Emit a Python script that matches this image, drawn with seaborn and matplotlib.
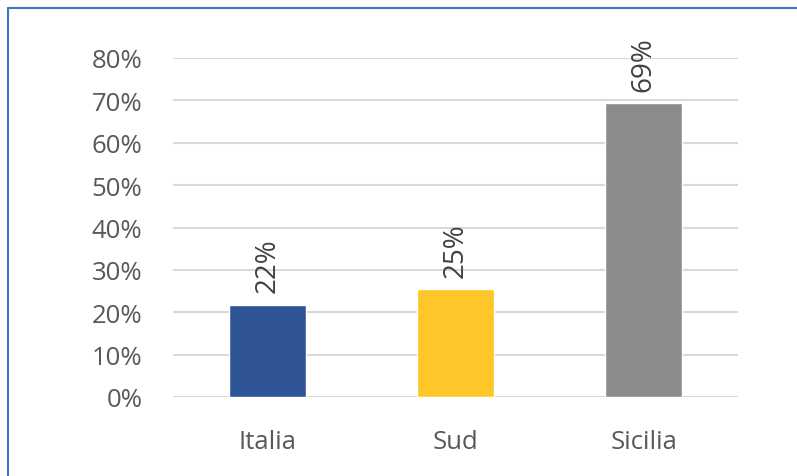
import matplotlib
matplotlib.use("Agg")
import matplotlib.pyplot as plt
from matplotlib.lines import Line2D
import seaborn as sns
import pandas as pd

# Share of each area
areas = ["Italia", "Sud", "Sicilia"]
shares = [0.218, 0.254, 0.693]
bar_colors = ["#2f5597", "#ffc629", "#8c8c8c"]
y_ticks = [0.0, 0.1, 0.2, 0.3, 0.4, 0.5, 0.6, 0.7, 0.8]

sns.set_theme(style="white")
plt.rcParams["font.family"] = ["Open Sans", "DejaVu Sans"]

df = pd.DataFrame({"area": areas, "share": shares})

fig = plt.figure(figsize=(7.97, 4.77), dpi=100)
ax = fig.add_axes([173 / 797, 1 - 398 / 477, (738 - 173) / 797, (398 - 59) / 477])

sns.barplot(data=df, x="area", y="share", hue="area", palette=bar_colors,
            width=0.41, legend=False, ax=ax, saturation=1)

ax.set_xlim(-0.5, 2.5)
ax.set_ylim(0, 0.8)
ax.set_yticks(y_ticks)
ax.set_yticklabels([f"{t:.0%}" for t in y_ticks])
ax.set_xlabel("")
ax.set_ylabel("")
ax.yaxis.grid(True, color="#d9d9d9", linewidth=1.5)
ax.set_axisbelow(True)
for s in ax.spines.values():
    s.set_visible(False)
ax.tick_params(axis="both", length=0, colors="#595959", labelsize=18.5)
ax.tick_params(axis="y", pad=22)
ax.tick_params(axis="x", pad=23)

for i, v in enumerate(shares):
    ax.annotate(f"{v:.0%}", xy=(i, v), xytext=(0, 9), textcoords="offset points",
                rotation=90, ha="center", va="bottom", color="#404040", fontsize=20)

# Frame of the chart box (left and top edges)
fig.add_artist(Line2D([8 / 797, 8 / 797], [0, 1 - 9 / 477], color="#4472c4", lw=1.5,
                      transform=fig.transFigure))
fig.add_artist(Line2D([8 / 797, 1], [1 - 9 / 477, 1 - 9 / 477], color="#4472c4", lw=1.5,
                      transform=fig.transFigure))

fig.savefig("out.png", dpi=100)
